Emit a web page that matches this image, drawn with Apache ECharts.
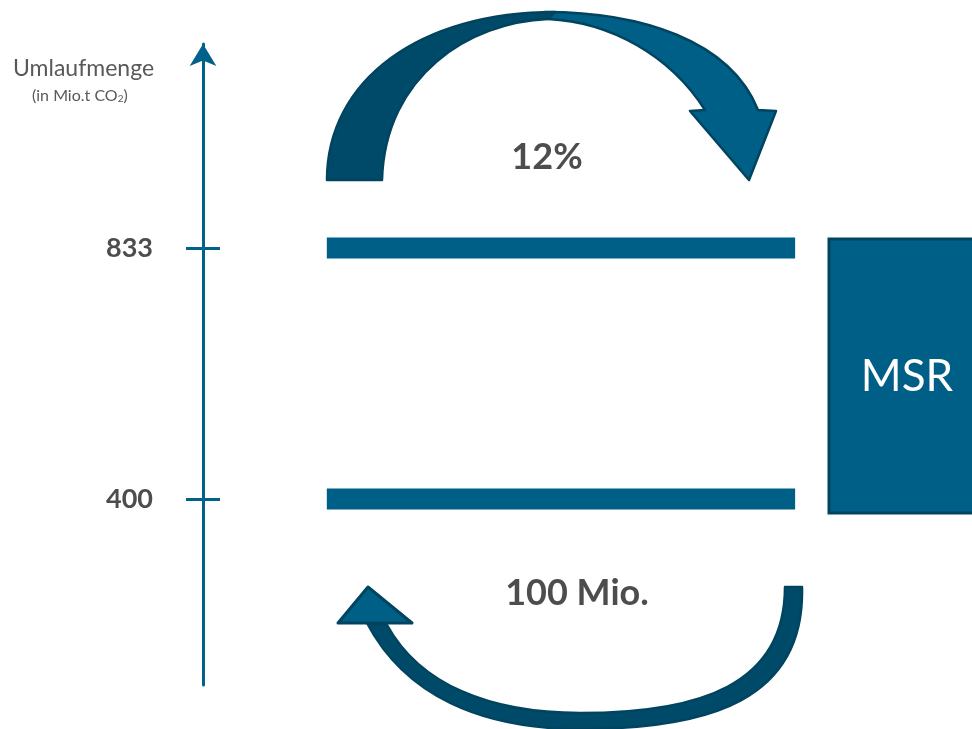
<!DOCTYPE html>
<html>
<head>
<meta charset="utf-8">
<script src="https://cdn.jsdelivr.net/npm/echarts@6/dist/echarts.min.js"></script>
<style>
html,body{margin:0;padding:0;background:#fff}
#main{width:972px;height:729px}
</style>
</head>
<body>
<div id="main"></div>
<script>
// Schwellenwerte der Umlaufmenge (Mio. t CO2)
var levels = [833, 400]
// Ausdehnung der Balken auf der x-Achse (0..100)
var barFrom = 16.1
var barTo = 77
var axisMin = 79
var axisMax = 1185
var topText = '12%'
var bottomText = '100 Mio.'
var boxText = 'MSR'

var blue = '#005f86'
var dark = '#004a69'
var edge = '#00445f'
var grey = '#4d4d4d'

// Pfeilformen als eigene Shapes registrieren
var shapes = {
    arrowTopRight: 'M545,12 C640,12 730,40 758,110 L776,111 L749,180 L690,111 L705,110 C670,55 610,22 548,19 Z',
    arrowTopLeft: 'M327,180 C327,80 420,12 555,12 L548,19 C470,22 385,75 382,180 Z',
    arrowBottomBand: 'M802,587 C805,700 710,729 580,729 C480,729 405,695 367,623 L387,625 C420,685 490,713 580,713 C700,713 785,685 785,587 Z',
    arrowBottomHead: 'M338,623 L368,587 L412,623 Z'
}
Object.keys(shapes).forEach(function (k) {
    echarts.graphic.registerShape(k, echarts.graphic.extendPath(shapes[k], {}))
})

var myChart = echarts.init(document.getElementById('main'))

var barSeries = levels.map(function (v) {
    return {
        type: 'line',
        data: [[barFrom, v], [barTo, v]],
        symbol: 'none',
        silent: true,
        lineStyle: { color: blue, width: 21, cap: 'butt' }
    }
})

var option = {
    backgroundColor: '#ffffff',
    animation: false,
    textStyle: { fontFamily: 'Lato' },
    grid: { left: 203, right: 0, top: 44, bottom: 44 },
    xAxis: { type: 'value', min: 0, max: 100, show: false },
    yAxis: [
        {
            type: 'value', min: axisMin, max: axisMax,
            splitLine: { show: false },
            axisLine: {
                show: true, symbol: ['none', 'arrow'], symbolSize: [20, 22],
                lineStyle: { color: '#00628a', width: 3 }
            },
            axisTick: {
                show: true, customValues: levels, length: 17,
                lineStyle: { color: '#00628a', width: 3 }
            },
            axisLabel: {
                customValues: levels, margin: 50,
                color: grey, fontSize: 27, fontWeight: 'bold', fontFamily: 'Lato'
            }
        },
        {
            type: 'value', min: axisMin, max: axisMax, position: 'left',
            splitLine: { show: false },
            axisLine: { show: false },
            axisTick: {
                show: true, inside: true, customValues: levels, length: 17,
                lineStyle: { color: '#00628a', width: 3 }
            },
            axisLabel: { show: false }
        }
    ],
    series: barSeries,
    graphic: [
        {
            type: 'text', x: 13, y: 57,
            style: { text: 'Umlaufmenge', fill: '#595959', font: '23px Lato' }
        },
        {
            type: 'text', x: 32, y: 88,
            style: {
                text: '(in Mio.t CO{s|2})', fill: '#595959', font: '16px Lato',
                rich: { s: { fontSize: 10, padding: [6, 0, 0, 0], fill: '#595959', fontFamily: 'Lato' } }
            }
        },
        { type: 'arrowTopRight', style: { fill: blue, stroke: edge, lineWidth: 2.5, lineJoin: 'round' } },
        { type: 'arrowTopLeft', style: { fill: dark, stroke: edge, lineWidth: 2.5, lineJoin: 'round' } },
        { type: 'arrowBottomBand', style: { fill: dark, stroke: edge, lineWidth: 2.5, lineJoin: 'round' } },
        { type: 'arrowBottomHead', style: { fill: blue, stroke: edge, lineWidth: 3, lineJoin: 'round' } },
        {
            type: 'text', x: 547, y: 157,
            style: { text: topText, fill: grey, font: 'bold 36px Lato', align: 'center', verticalAlign: 'middle' }
        },
        {
            type: 'text', x: 577, y: 593,
            style: { text: bottomText, fill: grey, font: 'bold 36px Lato', align: 'center', verticalAlign: 'middle' }
        },
        {
            type: 'rect',
            shape: { x: 829, y: 239, width: 150, height: 274 },
            style: { fill: blue, stroke: edge, lineWidth: 3 }
        },
        {
            type: 'text', x: 907, y: 377,
            style: { text: boxText, fill: '#ffffff', font: '44px Lato', align: 'center', verticalAlign: 'middle' }
        }
    ]
}
myChart.setOption(option)
</script>
</body>
</html>
